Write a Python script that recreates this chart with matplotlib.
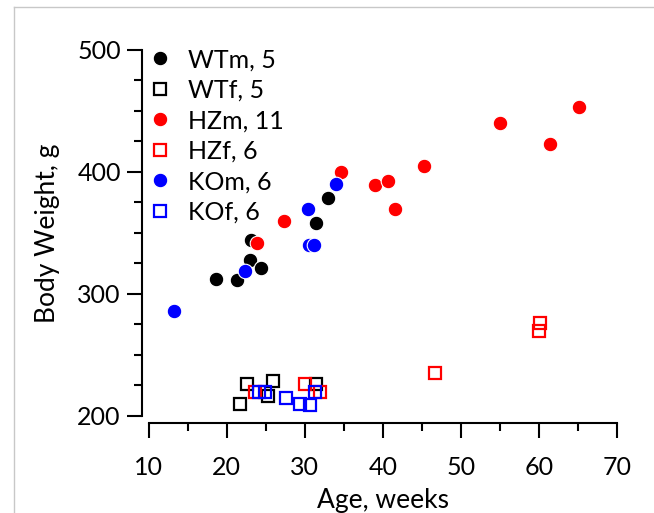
import matplotlib
matplotlib.use("Agg")
import matplotlib.pyplot as plt
from matplotlib.lines import Line2D
from matplotlib.ticker import MultipleLocator

plt.rcParams['font.family'] = ['Lato', 'DejaVu Sans']

# Body weight (g) versus age (weeks) for each group
wtm_age = [18.7, 21.3, 23.1, 23.0, 24.4, 31.4, 33.0]
wtm_wt = [312, 311.5, 344, 328, 321, 358, 379]

wtf_age = [21.75, 22.6, 26.0, 25.3, 31.45]
wtf_wt = [210, 226, 229, 216, 226]

hzm_age = [23.85, 27.4, 34.65, 39.0, 40.7, 41.6, 45.3, 55.05, 61.4, 65.1]
hzm_wt = [342, 360, 400, 389, 393, 370, 405, 440, 423, 453]

hzf_age = [23.6, 30.0, 32.0, 46.7, 60.0, 60.1]
hzf_wt = [220, 226, 220, 235, 270, 276.5]

kom_age = [13.3, 22.4, 30.4, 30.5, 31.2, 34.0]
kom_wt = [286, 319, 370, 340, 340, 390]

kof_age = [24.15, 24.9, 27.6, 29.4, 30.7, 31.3]
kof_wt = [220, 220, 215, 210, 209, 220]

labels = ["WTm, 5", "WTf, 5", "HZm, 11", "HZf, 6", "KOm, 6", "KOf, 6"]

fig = plt.figure(figsize=(6.54, 5.13), dpi=100)
ax = fig.add_axes([0.2271, 0.1891, 0.7163, 0.7135])

circle = dict(marker='o', linestyle='none', markersize=10.5,
              markeredgecolor='white', markeredgewidth=0.8)
square = dict(marker='s', linestyle='none', markersize=9,
              markerfacecolor='none', markeredgewidth=1.6)

h1, = ax.plot(wtm_age, wtm_wt, color='black', **circle)
h2, = ax.plot(wtf_age, wtf_wt, markeredgecolor='black', **square)
h3, = ax.plot(hzm_age, hzm_wt, color='#ff0000', **circle)
h4, = ax.plot(hzf_age, hzf_wt, markeredgecolor='#ff0000', **square)
h5, = ax.plot(kom_age, kom_wt, color='#0000ff', **circle)
h6, = ax.plot(kof_age, kof_wt, markeredgecolor='#0000ff', **square)

ax.set_xlim(10, 70)
ax.set_ylim(200, 500)
ax.xaxis.set_major_locator(MultipleLocator(10))
ax.xaxis.set_minor_locator(MultipleLocator(5))
ax.yaxis.set_major_locator(MultipleLocator(100))
ax.yaxis.set_minor_locator(MultipleLocator(25))

for side in ('top', 'right'):
    ax.spines[side].set_visible(False)
for side in ('left', 'bottom'):
    ax.spines[side].set_position(('outward', 5))
    ax.spines[side].set_linewidth(1.5)

ax.tick_params(which='major', length=11, width=1.5, labelsize=18)
ax.tick_params(axis='x', which='major', pad=13)
ax.tick_params(axis='y', which='major', pad=4)
ax.tick_params(which='minor', length=6, width=1.5)

ax.set_xlabel("Age, weeks", fontsize=19, labelpad=6)
ax.set_ylabel("Body Weight, g", fontsize=19, labelpad=12)

leg = ax.legend([h1, h2, h3, h4, h5, h6], labels, loc='upper left',
                bbox_to_anchor=(0.004, 1.005), frameon=False, fontsize=18,
                handlelength=0.8, handletextpad=0.72, labelspacing=0.3,
                borderaxespad=0, borderpad=0)

# light frame lines along the top and left edges of the figure
fig.add_artist(Line2D([14 / 654, 1.0], [1 - 7 / 513, 1 - 7 / 513],
                      transform=fig.transFigure, color='#c8c8c8', linewidth=1))
fig.add_artist(Line2D([14 / 654, 14 / 654], [0.0, 1 - 7 / 513],
                      transform=fig.transFigure, color='#c8c8c8', linewidth=1))

fig.savefig("out.png", dpi=100)
